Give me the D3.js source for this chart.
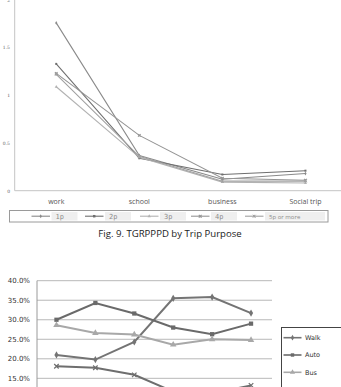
<!DOCTYPE html>
<html>
<head>
<meta charset="utf-8">
<script src="https://cdn.jsdelivr.net/npm/d3@7"></script>
<style>
  body { margin: 0; background: #fff; }
  svg { display: block; }
</style>
</head>
<body>
<svg id="chart" width="341" height="387"></svg>
<script>
// ---- top chart data (TGRPPPD by trip purpose)
const purposes = ["work", "school", "business", "Social trip"];
const sizeGroups = ["1p", "2p", "3p", "4p", "5p or more"];
const p1 = [1.76, 0.37, 0.12, 0.18];
const p2 = [1.33, 0.34, 0.17, 0.21];
const p3 = [1.09, 0.35, 0.09, 0.08];
const p4 = [1.23, 0.58, 0.13, 0.11];
const p5 = [1.22, 0.36, 0.10, 0.10];
const topTicks = [0, 0.5, 1, 1.5, 2];

// ---- bottom chart data (mode shares)
const modeCats = ["a", "b", "c", "d", "e", "f"];
const modes = ["Walk", "Auto", "Bus", "Taxi"];
const walk = [21.0, 19.8, 24.3, 35.5, 35.8, 31.7];
const auto = [30.0, 34.3, 31.6, 28.0, 26.3, 29.0];
const bus = [28.6, 26.6, 26.2, 23.6, 25.0, 24.8];
const taxi = [18.1, 17.7, 15.9, 11.6, 11.1, 13.2];
const pctTicks = [15, 20, 25, 30, 35, 40];

const svg = d3.select("#chart");

// symbol helper
function marker(g, type, x, y, size, color) {
  if (type == "x") {
    const s = size / 2;
    g.append("path")
      .attr("d", `M${x - s},${y - s}L${x + s},${y + s}M${x - s},${y + s}L${x + s},${y - s}`)
      .attr("stroke", color).attr("stroke-width", 1.2).attr("fill", "none");
    return;
  }
  if (type == "star") {
    const s = size / 2;
    g.append("path")
      .attr("d", `M${x - s},${y - s}L${x + s},${y + s}M${x - s},${y + s}L${x + s},${y - s}M${x},${y - s}L${x},${y + s}`)
      .attr("stroke", color).attr("stroke-width", 1).attr("fill", "none");
    return;
  }
  const sym = { diamond: d3.symbolDiamond, square: d3.symbolSquare, triangle: d3.symbolTriangle }[type];
  g.append("path")
    .attr("d", d3.symbol().type(sym).size(size * size * 0.6)())
    .attr("transform", `translate(${x},${y})`)
    .attr("fill", color);
}

// ================= TOP CHART =================
const topG = svg.append("g");
const yTop = d3.scaleLinear().domain([0, 2]).range([190.7, 0]);
const xTop = d3.scaleBand().domain(purposes).range([14.7, 347]);

topG.append("line").attr("x1", 14.7).attr("x2", 14.7).attr("y1", 0).attr("y2", 190.7)
  .attr("stroke", "#c4c4c4").attr("stroke-width", 1);
topG.append("line").attr("x1", 14.7).attr("x2", 341).attr("y1", 190.7).attr("y2", 190.7)
  .attr("stroke", "#c4c4c4").attr("stroke-width", 1);

topG.selectAll(".ytick").data(topTicks).enter().append("text")
  .attr("x", 10).attr("y", d => yTop(d) + 1.8)
  .attr("text-anchor", "end")
  .attr("font-family", "DejaVu Serif, serif").attr("font-size", 4.5)
  .attr("fill", "#666")
  .text(d => d);

topG.selectAll(".xlab").data(purposes).enter().append("text")
  .attr("x", d => xTop(d) + xTop.bandwidth() / 2)
  .attr("y", 204)
  .attr("text-anchor", "middle")
  .attr("font-family", "Open Sans, sans-serif").attr("font-size", 7)
  .attr("fill", "#555")
  .text(d => d);

const topSeries = [
  { name: sizeGroups[0], vals: p1, color: "#8a8a8a", mk: "diamond" },
  { name: sizeGroups[1], vals: p2, color: "#6f6f6f", mk: "square" },
  { name: sizeGroups[2], vals: p3, color: "#b2b2b2", mk: "triangle" },
  { name: sizeGroups[3], vals: p4, color: "#949494", mk: "x" },
  { name: sizeGroups[4], vals: p5, color: "#a0a0a0", mk: "star" }
];
const lineTop = d3.line()
  .x((d, i) => xTop(purposes[i]) + xTop.bandwidth() / 2)
  .y(d => yTop(d));

topSeries.forEach(s => {
  topG.append("path").attr("d", lineTop(s.vals))
    .attr("fill", "none").attr("stroke", s.color).attr("stroke-width", 1.1);
  s.vals.forEach((v, i) => {
    marker(topG, s.mk, xTop(purposes[i]) + xTop.bandwidth() / 2, yTop(v), 2.6, s.color);
  });
});

// top legend
const lg = topG.append("g");
lg.append("rect").attr("x", 9.5).attr("y", 210.5).attr("width", 318.5).attr("height", 11.5)
  .attr("fill", "#fff").attr("stroke", "#9a9a9a").attr("stroke-width", 1);
const legX = [31.5, 85, 140, 191, 245];
topSeries.forEach((s, i) => {
  const x0 = legX[i];
  lg.append("rect").attr("x", x0 + 20).attr("y", 212).attr("width", s.name.length > 3 ? 60 : 26).attr("height", 8.5)
    .attr("fill", "#efefef");
  lg.append("line").attr("x1", x0).attr("x2", x0 + 18.5).attr("y1", 216.2).attr("y2", 216.2)
    .attr("stroke", s.color).attr("stroke-width", 1.1);
  marker(lg, s.mk, x0 + 9.2, 216.2, s.mk == "square" ? 3.2 : 2.8, s.color);
  lg.append("text").attr("x", x0 + 24).attr("y", 218.8)
    .attr("font-family", s.name.length > 3 ? "Open Sans, sans-serif" : "DejaVu Sans Mono, monospace")
    .attr("font-size", s.name.length > 3 ? 6 : 7)
    .attr("fill", "#8c8c8c")
    .text(s.name);
});

// caption
svg.append("text").attr("x", 170).attr("y", 236.5)
  .attr("text-anchor", "middle")
  .attr("font-family", "Open Sans, sans-serif").attr("font-size", 9.6)
  .attr("fill", "#222")
  .text("Fig. 9. TGRPPPD by Trip Purpose");

// ================= BOTTOM CHART =================
const bot = svg.append("g");
const yBot = d3.scaleLinear().domain([0, 40]).range([436.9, 280.7]);
const xBot = d3.scaleBand().domain(modeCats).range([37, 270.5]);

bot.selectAll(".grid").data(pctTicks).enter().append("line")
  .attr("x1", 37).attr("x2", 272)
  .attr("y1", d => yBot(d)).attr("y2", d => yBot(d))
  .attr("stroke", "#b8b8b8").attr("stroke-width", 1);
bot.append("line").attr("x1", 37).attr("x2", 37).attr("y1", 280.7).attr("y2", 387)
  .attr("stroke", "#9a9a9a").attr("stroke-width", 1);

bot.selectAll(".ylab").data(pctTicks).enter().append("text")
  .attr("x", 30).attr("y", d => yBot(d) + 2.6)
  .attr("text-anchor", "end")
  .attr("font-family", "DejaVu Sans, sans-serif").attr("font-size", 7)
  .attr("fill", "#333")
  .text(d => d.toFixed(1) + "%");

const botSeries = [
  { name: modes[0], vals: walk, color: "#747474", mk: "diamond", sz: 5 },
  { name: modes[1], vals: auto, color: "#6a6a6a", mk: "square", sz: 5.5 },
  { name: modes[2], vals: bus, color: "#a8a8a8", mk: "triangle", sz: 5.5 },
  { name: modes[3], vals: taxi, color: "#6e6e6e", mk: "x", sz: 4.5 }
];
const lineBot = d3.line()
  .x((d, i) => xBot(modeCats[i]) + xBot.bandwidth() / 2)
  .y(d => yBot(d));

botSeries.forEach(s => {
  bot.append("path").attr("d", lineBot(s.vals))
    .attr("fill", "none").attr("stroke", s.color).attr("stroke-width", 2);
  s.vals.forEach((v, i) => {
    marker(bot, s.mk, xBot(modeCats[i]) + xBot.bandwidth() / 2, yBot(v), s.sz, s.color);
  });
});

// bottom legend
const lb = bot.append("g");
lb.append("rect").attr("x", 281.5).attr("y", 327.5).attr("width", 70).attr("height", 80)
  .attr("fill", "#fff").attr("stroke", "#444").attr("stroke-width", 1);
botSeries.forEach((s, i) => {
  const y = 337.7 + i * 17.3;
  lb.append("line").attr("x1", 283.5).attr("x2", 301.5).attr("y1", y).attr("y2", y)
    .attr("stroke", s.color).attr("stroke-width", 1.6);
  marker(lb, s.mk, 292.5, y, s.sz * 0.8, s.color);
  lb.append("text").attr("x", 305).attr("y", y + 2.4)
    .attr("font-family", "DejaVu Sans, sans-serif").attr("font-size", 6.5)
    .attr("fill", "#333")
    .text(s.name);
});
</script>
</body>
</html>
